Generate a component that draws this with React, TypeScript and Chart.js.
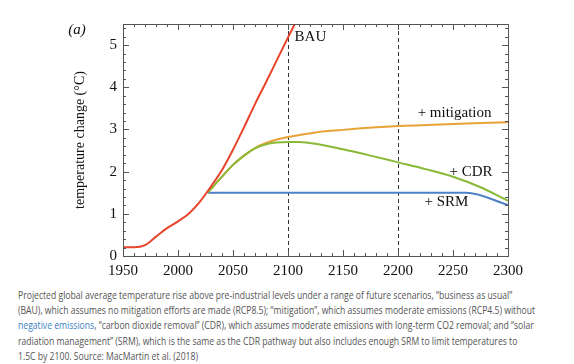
import React, { useEffect, useRef } from "react";
import { Chart, registerables } from "chart.js";

Chart.register(...registerables);

// ---- data ----
const bauYears = [1950, 1960, 1970, 1980, 1990, 2000, 2010, 2020, 2030, 2040, 2050, 2060, 2070, 2080, 2090, 2100, 2110];
const bauTemps = [0.21, 0.21, 0.26, 0.46, 0.66, 0.82, 1.01, 1.29, 1.65, 2.04, 2.52, 3.05, 3.6, 4.12, 4.65, 5.18, 5.7];

const mitigationYears = [2027, 2040, 2050, 2060, 2070, 2080, 2090, 2100, 2125, 2150, 2200, 2250, 2300];
const mitigationTemps = [1.5, 1.88, 2.16, 2.38, 2.56, 2.68, 2.76, 2.82, 2.93, 2.99, 3.08, 3.13, 3.17];

const cdrYears = [2027, 2040, 2050, 2060, 2070, 2080, 2090, 2100, 2110, 2125, 2150, 2175, 2200, 2225, 2250, 2275, 2300];
const cdrTemps = [1.5, 1.88, 2.16, 2.38, 2.55, 2.65, 2.69, 2.7, 2.7, 2.66, 2.53, 2.38, 2.22, 2.06, 1.88, 1.63, 1.31];

const srmYears = [2027, 2100, 2200, 2262, 2300];
const srmTemps = [1.5, 1.5, 1.5, 1.5, 1.21];

const xMin = 1950;
const xMax = 2300;
const xMajorStep = 50;
const xMinorStep = 10;
const yMin = 0;
const yMax = 5.5;
const yMajorStep = 1;
const yMinorStep = 0.2;

const markerYears = [2100, 2200];

const seriesNames = ["BAU", "+ mitigation", "+ CDR", "+ SRM"];
const labelYears = [2106, 2285, 2286, 2264];
const labelTemps = [5.2, 3.4, 2.0, 1.27];
const labelAligns = ["left", "right", "right", "right"];

const captionLines = [
  "Projected global average temperature rise above pre-industrial levels under a range of future scenarios, \u201cbusiness as usual\u201d",
  "(BAU), which assumes no mitigation efforts are made (RCP8.5); \u201cmitigation\u201d, which assumes moderate emissions (RCP4.5) without",
  "__LINK__, \u201ccarbon dioxide removal\u201d (CDR), which assumes moderate emissions with long-term CO2 removal; and \u201csolar",
  "radiation management\u201d (SRM), which is the same as the CDR pathway but also includes enough SRM to limit temperatures to",
  "1.5C by 2100. Source: MacMartin et al. (2018)",
];
const linkText = "negative emissions";

const SERIF = "'Liberation Serif', 'Times New Roman', serif";

const toPoints = (xs: number[], ys: number[]) => xs.map((x, i) => ({ x, y: ys[i] }));

const framePlugin = {
  id: "framePlugin",
  beforeDatasetsDraw(chart: any) {
    const { ctx, chartArea, scales } = chart;
    const xs = scales.x;
    ctx.save();
    ctx.strokeStyle = "#333";
    ctx.lineWidth = 1;
    ctx.setLineDash([4, 3]);
    for (const yr of markerYears) {
      const px = Math.round(xs.getPixelForValue(yr)) + 0.5;
      ctx.beginPath();
      ctx.moveTo(px, chartArea.top);
      ctx.lineTo(px, chartArea.bottom);
      ctx.stroke();
    }
    ctx.restore();
  },
  afterDatasetsDraw(chart: any) {
    const { ctx, chartArea, scales } = chart;
    const xs = scales.x;
    const ys = scales.y;
    const { left, right, top, bottom } = chartArea;
    ctx.save();
    ctx.strokeStyle = "#555";
    ctx.lineWidth = 1;
    ctx.setLineDash([]);
    // frame
    ctx.strokeRect(Math.round(left) + 0.5, Math.round(top) + 0.5, Math.round(right - left), Math.round(bottom - top));
    // x ticks
    ctx.beginPath();
    for (let v = xMin; v <= xMax + 1e-6; v += xMinorStep) {
      const px = Math.round(xs.getPixelForValue(v)) + 0.5;
      const len = Math.abs((v - xMin) % xMajorStep) < 1e-6 ? 6 : 3;
      ctx.moveTo(px, bottom);
      ctx.lineTo(px, bottom - len);
      ctx.moveTo(px, top);
      ctx.lineTo(px, top + len);
    }
    // y ticks
    for (let i = 0; ; i++) {
      const v = yMin + i * yMinorStep;
      if (v > yMax + 1e-6) break;
      const py = Math.round(ys.getPixelForValue(v)) + 0.5;
      const r = v / yMajorStep;
      const len = Math.abs(r - Math.round(r)) < 1e-6 ? 6 : 3;
      ctx.moveTo(left, py);
      ctx.lineTo(left + len, py);
      ctx.moveTo(right, py);
      ctx.lineTo(right - len, py);
    }
    ctx.stroke();

    // series labels
    ctx.fillStyle = "#111";
    ctx.font = `15px ${SERIF}`;
    ctx.textBaseline = "middle";
    seriesNames.forEach((name, i) => {
      ctx.textAlign = labelAligns[i] as CanvasTextAlign;
      ctx.fillText(name, xs.getPixelForValue(labelYears[i]), ys.getPixelForValue(labelTemps[i]));
    });

    // (a)
    ctx.font = `italic 15px ${SERIF}`;
    ctx.textAlign = "center";
    ctx.fillText("(a)", left - 46, top + 6);

    // y title
    ctx.font = `14px ${SERIF}`;
    ctx.translate(left - 43, (top + bottom) / 2);
    ctx.rotate(-Math.PI / 2);
    ctx.textAlign = "center";
    ctx.fillText("temperature change (\u00b0C)", 0, 0);
    ctx.restore();
  },
};

export default function App() {
  const canvasRef = useRef<HTMLCanvasElement | null>(null);

  useEffect(() => {
    const canvas = canvasRef.current;
    if (!canvas) return;
    const chart = new Chart(canvas, {
      type: "line",
      data: {
        datasets: [
          {
            label: "BAU",
            data: toPoints(bauYears, bauTemps),
            borderColor: "#e8452c",
          },
          {
            label: "+ CDR",
            data: toPoints(cdrYears, cdrTemps),
            borderColor: "#8ab937",
          },
          {
            label: "+ SRM",
            data: toPoints(srmYears, srmTemps),
            borderColor: "#4f80c6",
          },
          {
            label: "+ mitigation",
            data: toPoints(mitigationYears, mitigationTemps),
            borderColor: "#e9a236",
          },
        ].map((d) => ({
          ...d,
          borderWidth: 2,
          pointRadius: 0,
          fill: false,
          cubicInterpolationMode: "monotone" as const,
        })),
      },
      options: {
        animation: false,
        responsive: false,
        layout: { padding: { left: 0, right: 66, top: 24, bottom: 0 } },
        plugins: {
          legend: { display: false },
          tooltip: { enabled: false },
        },
        scales: {
          x: {
            type: "linear",
            min: xMin,
            max: xMax,
            grid: { display: false, drawTicks: false },
            border: { display: false },
            ticks: {
              stepSize: xMajorStep,
              padding: 6,
              color: "#111",
              font: { family: SERIF, size: 15 },
              maxRotation: 0,
              callback: (v: any) => String(v),
            },
            afterFit: (s: any) => {
              s.height = 29;
            },
          },
          y: {
            type: "linear",
            min: yMin,
            max: yMax,
            grid: { display: false, drawTicks: false },
            border: { display: false },
            ticks: {
              stepSize: yMajorStep,
              padding: 6,
              color: "#111",
              font: { family: SERIF, size: 15 },
              callback: (v: any) => (Number.isInteger(v) ? String(v) : null),
            },
            afterFit: (s: any) => {
              s.width = 123;
            },
          },
        },
      },
      plugins: [framePlugin],
    });
    return () => chart.destroy();
  }, []);

  return (
    <div style={{ position: "absolute", left: 0, top: 0, width: 574, height: 364, background: "#fff", overflow: "hidden" }}>
      <canvas ref={canvasRef} width={574} height={285} style={{ position: "absolute", left: 0, top: 0 }} />
      <div
        style={{
          position: "absolute",
          left: 18,
          top: 288,
          fontFamily: "'Open Sans', 'Noto Sans', sans-serif",
          fontSize: 10,
          lineHeight: "15.2px",
          color: "#555",
          whiteSpace: "nowrap",
          transform: "scaleX(0.862)",
          transformOrigin: "0 0",
        }}
      >
        {captionLines.map((line, i) => {
          if (line.startsWith("__LINK__")) {
            return (
              <div key={i}>
                <span style={{ color: "#3b82c4" }}>{linkText}</span>
                {line.slice("__LINK__".length)}
              </div>
            );
          }
          return <div key={i}>{line}</div>;
        })}
      </div>
    </div>
  );
}
